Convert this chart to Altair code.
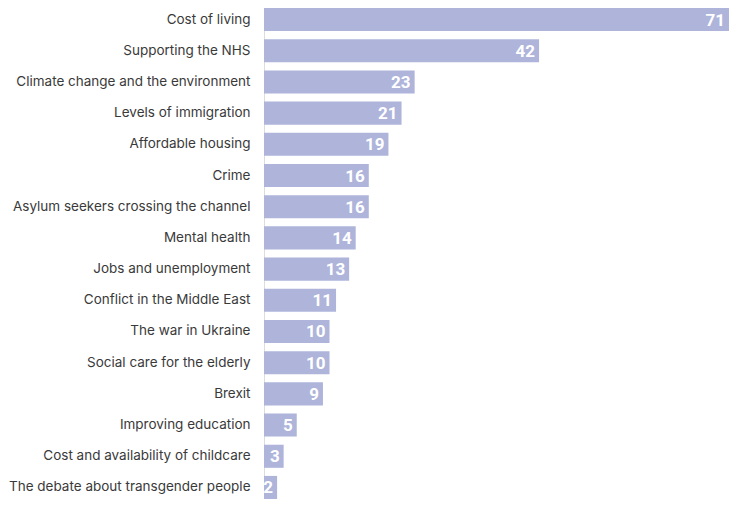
import altair as alt
import pandas as pd

categories = [
    "Cost of living",
    "Supporting the NHS",
    "Climate change and the environment",
    "Levels of immigration",
    "Affordable housing",
    "Crime",
    "Asylum seekers crossing the channel",
    "Mental health",
    "Jobs and unemployment",
    "Conflict in the Middle East",
    "The war in Ukraine",
    "Social care for the elderly",
    "Brexit",
    "Improving education",
    "Cost and availability of childcare",
    "The debate about transgender people",
]
values = [71, 42, 23, 21, 19, 16, 16, 14, 13, 11, 10, 10, 9, 5, 3, 2]

df = pd.DataFrame({"issue": categories, "value": values})

y_enc = alt.Y(
    "issue:N",
    sort=categories,
    scale=alt.Scale(paddingInner=0.26, paddingOuter=0.0),
    axis=alt.Axis(
        title=None,
        domain=False,
        ticks=False,
        labelPadding=14,
        labelFont="Inter",
        labelFontSize=13.5,
        labelColor="#3a3a3a",
        labelLimit=400,
    ),
)
x_enc = alt.X(
    "value:Q",
    scale=alt.Scale(domain=[0, 71], nice=False, zero=True),
    axis=None,
)

bars = alt.Chart(df).mark_bar(color="#aeb4da").encode(y=y_enc, x=x_enc)
labels = alt.Chart(df).mark_text(
    align="right",
    baseline="middle",
    dx=-4,
    dy=1,
    color="white",
    font="Roboto",
    fontWeight="bold",
    fontSize=17,
).encode(y=y_enc, x=x_enc, text="value:Q")

chart = (
    (bars + labels)
    .properties(width=465, height=491, padding=0)
    .configure_view(stroke=None)
    .configure(background="white")
)

chart.save("out.html", embed_options={"renderer": "svg", "actions": False})
